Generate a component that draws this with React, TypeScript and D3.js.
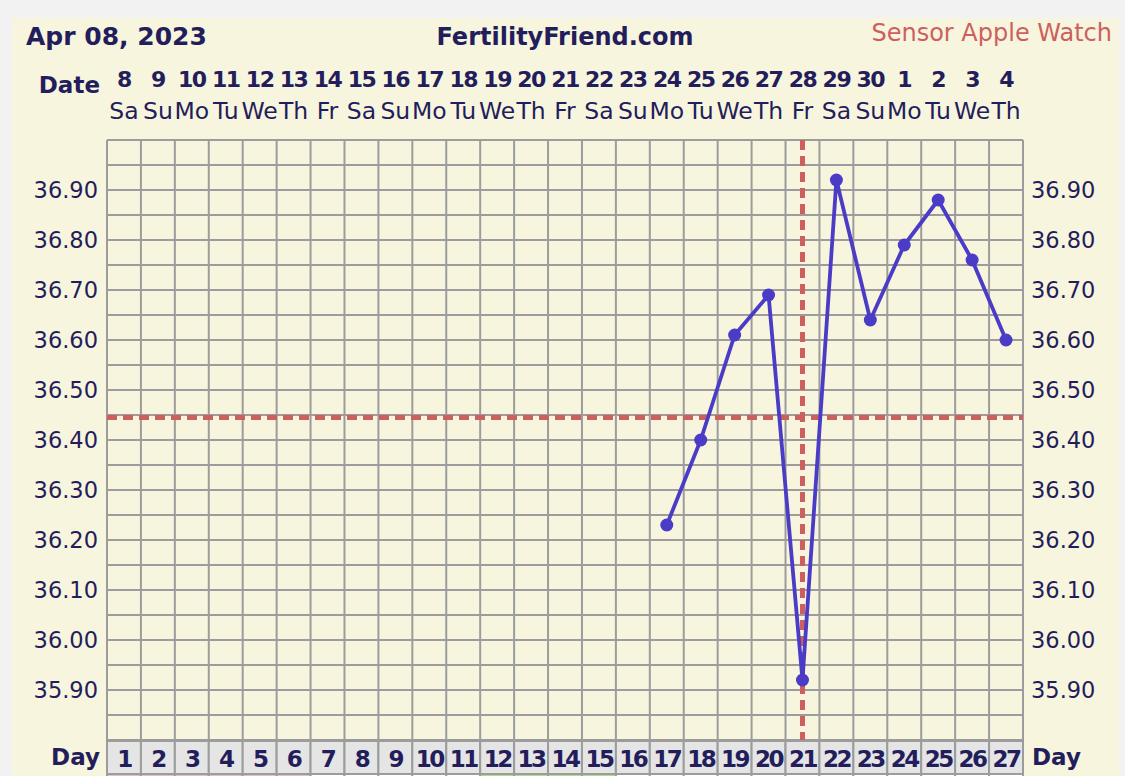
import React from "react";
import * as d3 from "d3";

const dates = ["8","9","10","11","12","13","14","15","16","17","18","19","20","21","22","23","24","25","26","27","28","29","30","1","2","3","4"];
const weekdays = ["Sa","Su","Mo","Tu","We","Th","Fr","Sa","Su","Mo","Tu","We","Th","Fr","Sa","Su","Mo","Tu","We","Th","Fr","Sa","Su","Mo","Tu","We","Th"];
const cycleDays = d3.range(1, 28);
const tempDays = [17, 18, 19, 20, 21, 22, 23, 24, 25, 26, 27];
const temps = [36.23, 36.40, 36.61, 36.69, 35.92, 36.92, 36.64, 36.79, 36.88, 36.76, 36.60];
const tickValues = [36.9, 36.8, 36.7, 36.6, 36.5, 36.4, 36.3, 36.2, 36.1, 36.0, 35.9];
const coverline = 36.445;
const ovulationDay = 21;
const bottomRowColors = ["p","p","p","p","p","p","w","w","w","w","w","g","g","g","g","w","w","w","w","w","w","w","w","w","w","w","w"];

const NAVY = "#231d5c";
const RED = "#cd5f5f";
const BLUE = "#4a3cc6";
const GRID = "#9c9c9c";
const FONT = "'DejaVu Sans', Verdana, sans-serif";

export default function App() {
  const left = 107, right = 1023, top = 140, bottom = 740;
  const x = d3.scaleLinear().domain([0.5, 27.5]).range([left, right]);
  const y = d3.scaleLinear().domain([35.8, 37.0]).range([bottom, top]);
  const colW = (right - left) / 27;
  const hLines = d3.range(0, 25).map((i) => 35.8 + i * 0.05);
  const line = d3.line<number>().x((_, i) => x(tempDays[i])).y((d) => y(d));
  const rowColor: Record<string, string> = { p: "#e9bcc6", w: "#ffffff", g: "#a9e08f" };

  return (
    <svg width={1125} height={776} style={{ position: "absolute", left: 0, top: 0 }} fontFamily={FONT}>
      <rect x={0} y={0} width={1125} height={776} fill="#f2f2f2" />
      <rect x={12} y={18} width={1107} height={770} fill="#f7f5de" />

      <text x={26} y={45} fontSize={25} fontWeight="bold" fill={NAVY}>Apr 08, 2023</text>
      <text x={565} y={45} fontSize={24} fontWeight="bold" fill={NAVY} textAnchor="middle">FertilityFriend.com</text>
      <text x={1112} y={41} fontSize={24} fill={RED} textAnchor="end">Sensor Apple Watch</text>

      <text x={100} y={93} fontSize={23} fontWeight="bold" fill={NAVY} textAnchor="end">Date</text>
      {dates.map((d, i) => (
        <text key={"d" + i} x={x(i + 1)} y={87} fontSize={22} fontWeight="bold" fill={NAVY} textAnchor="middle" letterSpacing={-1.5}>{d}</text>
      ))}
      {weekdays.map((d, i) => (
        <text key={"w" + i} x={x(i + 1)} y={119} fontSize={23.5} fill={NAVY} textAnchor="middle">{d}</text>
      ))}

      {/* grid */}
      {hLines.map((v, i) => (
        <line key={"h" + i} x1={left} x2={right} y1={y(v)} y2={y(v)} stroke={GRID} strokeWidth={2} />
      ))}
      {d3.range(0, 28).map((i) => (
        <line key={"v" + i} x1={left + i * colW} x2={left + i * colW} y1={top} y2={bottom} stroke={GRID} strokeWidth={2} />
      ))}

      {/* axis labels */}
      {tickValues.map((v) => (
        <text key={"l" + v} x={98} y={y(v) + 8} fontSize={22.5} fill={NAVY} textAnchor="end">{v.toFixed(2)}</text>
      ))}
      {tickValues.map((v) => (
        <text key={"r" + v} x={1031} y={y(v) + 8} fontSize={22.5} fill={NAVY}>{v.toFixed(2)}</text>
      ))}

      {/* coverline and ovulation */}
      <line x1={left} x2={right} y1={y(coverline)} y2={y(coverline)} stroke={RED} strokeWidth={5} strokeDasharray="10,6" />
      <line x1={x(ovulationDay)} x2={x(ovulationDay)} y1={top} y2={bottom} stroke={RED} strokeWidth={5} strokeDasharray="10,6" />

      {/* temperature line */}
      <path d={line(temps) || ""} fill="none" stroke={BLUE} strokeWidth={3.8} strokeLinejoin="round" />
      {temps.map((t, i) => (
        <circle key={"c" + i} cx={x(tempDays[i])} cy={y(t)} r={6.5} fill={BLUE} />
      ))}

      {/* day row */}
      {cycleDays.map((d, i) => (
        <g key={"day" + d}>
          <rect x={left + i * colW} y={741} width={colW} height={33} fill="#e5e5e5" stroke={GRID} strokeWidth={2} />
          <text x={x(d)} y={767} fontSize={23} fontWeight="bold" fill={NAVY} textAnchor="middle" letterSpacing={-2.5}>{d}</text>
          <rect x={left + i * colW} y={774} width={colW} height={20} fill={rowColor[bottomRowColors[i]]} stroke={GRID} strokeWidth={2} />
        </g>
      ))}
      <text x={100} y={765} fontSize={23} fontWeight="bold" fill={NAVY} textAnchor="end">Day</text>
      <text x={1032} y={765} fontSize={23} fontWeight="bold" fill={NAVY}>Day</text>
    </svg>
  );
}
